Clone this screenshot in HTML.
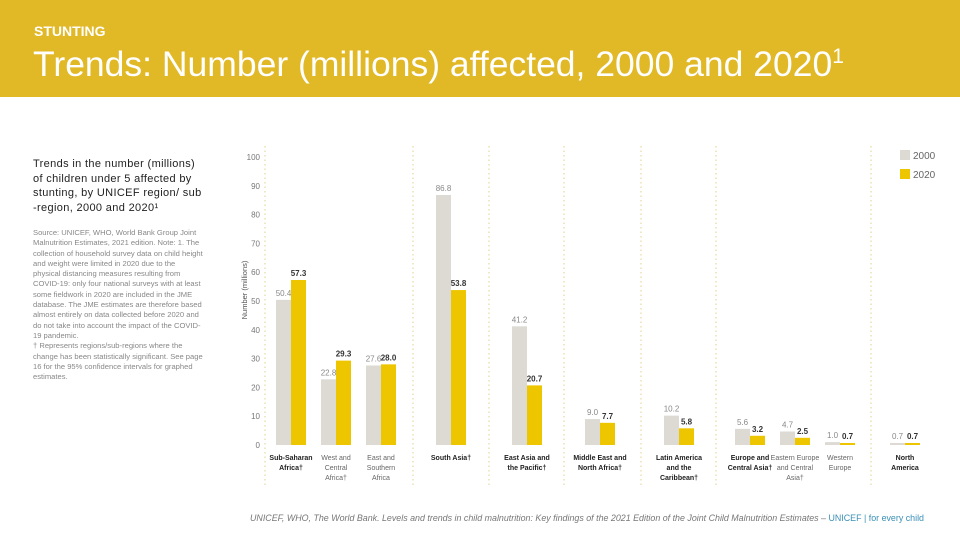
<!DOCTYPE html>
<html><head><meta charset="utf-8"><style>
body{margin:0;width:960px;height:540px;background:#fff;font-family:"Liberation Sans",sans-serif;overflow:hidden;position:relative}
#hdr{position:absolute;left:0;top:0;width:960px;height:97px;background:#E1B825}
#kicker{position:absolute;left:34px;top:23px;color:#fff;font-size:14px;font-weight:bold}
#title{position:absolute;left:33px;top:44px;color:#fff;font-size:35.5px;white-space:nowrap}
#title sup{font-size:21px;vertical-align:13px}
#sub{position:absolute;left:33px;top:157px;width:172px;font-size:11px;line-height:14.6px;letter-spacing:0.35px;color:#222}
#src{position:absolute;left:33px;top:228px;width:170px;font-size:7.6px;line-height:10.3px;color:#888}
#foot{position:absolute;left:250px;top:513px;font-size:8.9px;color:#777;font-style:italic;white-space:nowrap}
#foot span{color:#3a8fb7;font-style:normal}
svg{position:absolute;left:0;top:0}
</style></head><body>
<div id="hdr"></div>
<div id="kicker">STUNTING</div>
<div id="title">Trends: Number (millions) affected, 2000 and 2020<sup>1</sup></div>
<div id="sub">Trends in the number (millions) of children under 5 affected by stunting, by UNICEF region/ sub -region, 2000 and 2020¹</div>
<div id="src">Source: UNICEF, WHO, World Bank Group Joint Malnutrition Estimates, 2021 edition. Note: 1. The collection of household survey data on child height and weight were limited in 2020 due to the physical distancing measures resulting from COVID-19: only four national surveys with at least some fieldwork in 2020 are included in the JME database. The JME estimates are therefore based almost entirely on data collected before 2020 and do not take into account the impact of the COVID-19 pandemic.<br>† Represents regions/sub-regions where the change has been statistically significant. See page 16 for the 95% confidence intervals for graphed estimates.</div>
<div id="foot">UNICEF, WHO, The World Bank. Levels and trends in child malnutrition: Key findings of the 2021 Edition of the Joint Child Malnutrition Estimates – <span>UNICEF | for every child</span></div>
<svg id="chart" width="960" height="540"></svg>
<script>
const categories=["Sub-Saharan|Africa†","West and|Central|Africa†","East and|Southern|Africa","South Asia†","East Asia and|the Pacific†","Middle East and|North Africa†","Latin America|and the|Caribbean†","Europe and|Central Asia†","Eastern Europe|and Central|Asia†","Western|Europe","North|America"];
const boldCats=[true,false,false,true,true,true,true,true,false,false,true];
const values2000=[50.4,22.8,27.6,86.8,41.2,9.0,10.2,5.6,4.7,1.0,0.7];
const values2020=[57.3,29.3,28.0,53.8,20.7,7.7,5.8,3.2,2.5,0.7,0.7];
const yTicks=[0,10,20,30,40,50,60,70,80,90,100];
const seriesNames=["2000","2020"];
const NS="http://www.w3.org/2000/svg";
const svg=document.getElementById('chart');
// layout
const slotCenters=[291,336,381,451,527,600,679,750,795,840,905];
const separators=[265,413,489,564,641,716,871];
const y0=445,y100=157;
function y(v){return y0-(v/100)*(y0-y100);}
function xc(i){return slotCenters[i];}
function mk(tag,attrs){const e=document.createElementNS(NS,tag);for(const k in attrs)e.setAttribute(k,attrs[k]);svg.appendChild(e);return e;}
separators.forEach(sx=>{
  const l=mk('line',{x1:sx,x2:sx,y1:146,y2:486,stroke:'#e3cf8a','stroke-width':1,'stroke-dasharray':'1.5,3'});
  
  
});
yTicks.forEach(t=>{
  const tx=mk('text',{x:260,y:y(t)+3,'text-anchor':'end','font-size':8,fill:'#777'});
  tx.textContent=t;
  
  
});
const yt=mk('text',{x:0,y:0,transform:'translate(247,290) rotate(-90)','text-anchor':'middle','font-size':7.5,fill:'#555'});
yt.textContent='Number (millions)';


const bw=15;
categories.forEach((c,i)=>{
  const cx=xc(i);
  [[values2000,'#dcdad3',cx-bw,'#888'],[values2020,'#EEC600',cx,'#333']].forEach((s,si)=>{
    const v=s[0][i];
    const r=mk('rect',{x:s[2],y:y(v),width:bw,height:y0-y(v),fill:s[1]});
    
    
    const t=mk('text',{x:s[2]+bw/2,y:y(v)-4,'text-anchor':'middle','font-size':8,fill:s[3],'font-weight':si?'bold':'normal'});
    t.textContent=v.toFixed(1);
    
    
  });
  c.split('|').forEach((line,li)=>{
    const t=mk('text',{x:cx,y:460+li*10,'text-anchor':'middle','font-size':7,fill:boldCats[i]?'#222':'#666','font-weight':boldCats[i]?'bold':'normal'});
    t.textContent=line;
    
    
  });
});
[['#dcdad3',150],['#EEC600',169]].forEach((l,i)=>{
  const r=mk('rect',{x:900,y:l[1],width:10,height:10,fill:l[0]});
  
  
  const t=mk('text',{x:913,y:l[1]+9,'font-size':10,fill:'#666'});
  t.textContent=seriesNames[i];
  
  
});
</script>
</body></html>
